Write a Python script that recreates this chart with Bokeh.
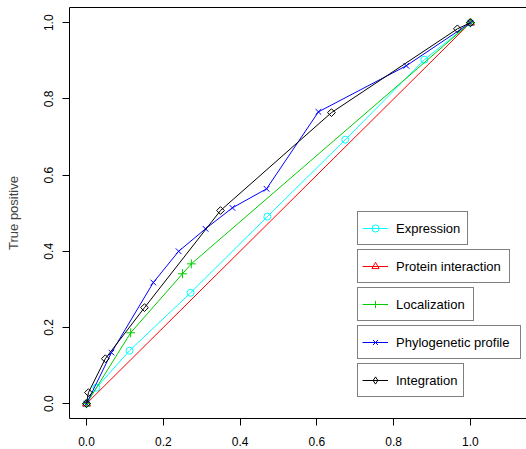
import math
from bokeh.plotting import figure
from bokeh.models import (Range1d, FixedTicker, LinearAxis, Legend, LegendItem,
                          PrintfTickFormatter)
from bokeh.embed import file_html
from bokeh.resources import INLINE

# ---- data ----
ticks = [0.0, 0.2, 0.4, 0.6, 0.8, 1.0]
y_label = "True positive"

expression_x = [0.0, 0.026, 0.112, 0.271, 0.471, 0.674, 0.880, 1.0]
expression_y = [0.0, 0.042, 0.139, 0.291, 0.491, 0.693, 0.903, 1.0]

protein_x = [0.0, 1.0]
protein_y = [0.0, 1.0]

localization_x = [0.0, 0.115, 0.250, 0.273, 1.0]
localization_y = [0.0, 0.186, 0.341, 0.367, 1.0]

phylo_x = [0.0, 0.065, 0.174, 0.240, 0.310, 0.380, 0.469, 0.604, 0.833, 1.0]
phylo_y = [0.0, 0.134, 0.318, 0.400, 0.459, 0.514, 0.564, 0.766, 0.887, 1.0]

integration_x = [0.0, 0.005, 0.049, 0.151, 0.349, 0.638, 0.966, 1.0]
integration_y = [0.0, 0.029, 0.118, 0.252, 0.507, 0.764, 0.984, 1.0]

names = ["Expression", "Protein interaction", "Localization",
         "Phylogenetic profile", "Integration"]
colors = ["#00FFFF", "#FF0000", "#00CD00", "#0000FF", "#000000"]

FONT = "Liberation Sans"

p = figure(width=526, height=449, output_backend="svg", toolbar_location=None,
           x_range=Range1d(-0.0443, 1.146), y_range=Range1d(-0.039, 1.040),
           min_border_left=69, min_border_right=0, min_border_top=7,
           min_border_bottom=31)
p.xgrid.visible = False
p.ygrid.visible = False
p.outline_line_color = None
p.background_fill_color = "white"
p.border_fill_color = "white"

for ax in (p.xaxis[0], p.yaxis[0]):
    ax.ticker = FixedTicker(ticks=ticks)
    ax.formatter = PrintfTickFormatter(format="%.1f")
    ax.major_tick_out = 7
    ax.major_tick_in = 0
    ax.minor_tick_line_color = None
    ax.axis_line_color = "black"
    ax.major_tick_line_color = "black"
    ax.major_label_text_font = FONT
    ax.major_label_text_font_size = "12px"
    ax.major_label_text_color = "black"

p.xaxis.major_label_standoff = 11
p.yaxis.major_label_standoff = 9
p.yaxis.major_label_orientation = "parallel"
p.yaxis.axis_label = y_label
p.yaxis.axis_label_text_font = FONT
p.yaxis.axis_label_text_font_size = "13px"
p.yaxis.axis_label_text_font_style = "normal"
p.yaxis.axis_label_standoff = 21

top = LinearAxis(ticker=FixedTicker(ticks=[]), major_tick_out=0, major_tick_in=0,
                 major_label_standoff=0, minor_tick_line_color=None,
                 axis_line_color="black", major_label_text_font_size="0px")
p.add_layout(top, "above")

# marker, size, angle for the plotted points; marker used for the legend key
series = [
    (expression_x, expression_y, "circle", 7, 0.0, "circle"),
    (protein_x, protein_y, "triangle", 8, 0.0, "triangle"),
    (localization_x, localization_y, "cross", 9, 0.0, "cross"),
    (phylo_x, phylo_y, "x", 8, 0.0, "x"),
    (integration_x, integration_y, "square", 5.5, math.pi / 4, "diamond"),
]

legend_renderers = []
for (xs, ys, marker, size, ang, key_marker), col in zip(series, colors):
    lr = p.line(xs, ys, line_color=col, line_width=1)
    sr = p.scatter(xs, ys, marker=marker, size=size, angle=ang,
                   line_color=col, fill_color=None, line_width=1)
    if key_marker != marker:
        # legend-only key glyph (no points of its own)
        kr = p.scatter([float("nan")], [float("nan")], marker=key_marker,
                       line_color=col, fill_color=None, line_width=1)
        legend_renderers.append([lr, kr])
    else:
        legend_renderers.append([lr, sr])

box_widths = [109, 151, 115, 162, 105]
box_bottoms = [173, 135, 97, 59, 21]
for rends, name, w, b in zip(legend_renderers, names, box_widths, box_bottoms):
    lg = Legend(items=[LegendItem(label=name, renderers=rends)],
                location=(288, b), padding=4, margin=0, spacing=0,
                glyph_width=26, glyph_height=18, label_height=24,
                label_standoff=8, label_width=w - 42,
                label_text_font=FONT, label_text_font_size="13px",
                label_text_color="black",
                border_line_color="black", border_line_width=1,
                background_fill_color="white", background_fill_alpha=1.0)
    p.add_layout(lg, "center")

open("out.html", "w").write(file_html(p, INLINE))
